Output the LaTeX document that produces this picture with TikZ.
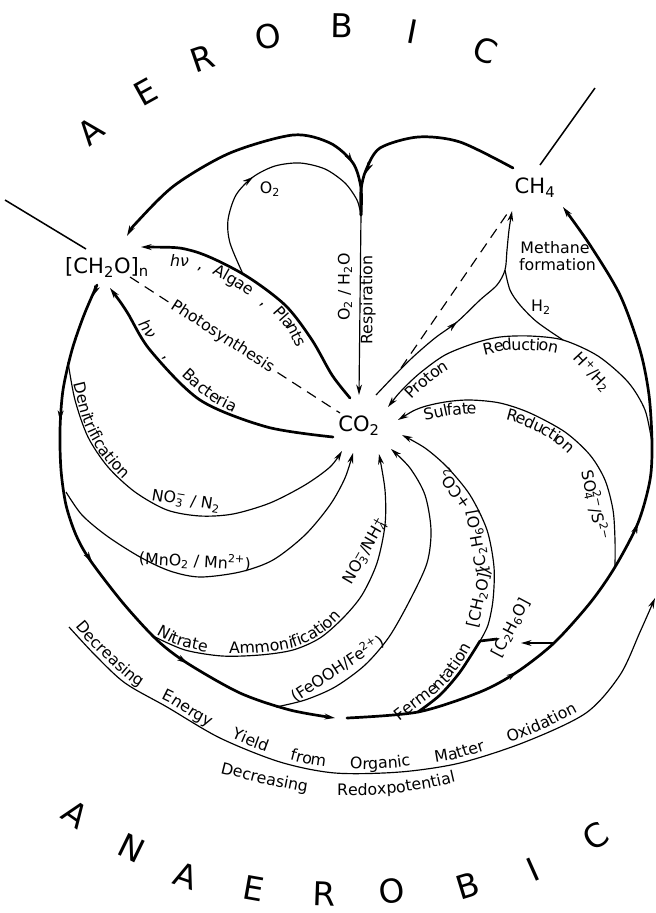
\documentclass[tikz,border=0pt]{standalone}
\usepackage{fontspec}
\setmainfont{DejaVu Sans}
\usetikzlibrary{arrows.meta,decorations.text}

\def\labelsize{\fontsize{13.5}{15}\selectfont}
\def\chemsize{\fontsize{18}{20}\selectfont}
\def\bigsize{\fontsize{28}{30}\selectfont}
\newcommand{\subsup}[2]{\rlap{\textsubscript{#1}}\textsuperscript{#2}}
\newcommand{\flowtext}[3][2pt]{
    \path[decorate, decoration={text along path, text={#3},
        text align={fit to path stretching spaces}, raise=#1}]
    plot coordinates {#2};
}
\newcommand{\wordtext}[3][2pt]{
    \path[decorate, decoration={text along path, text={#3},
        text align=center, raise=#1}]
    plot coordinates {#2};
}
\newcommand{\tipat}[2]{\draw[line width=0.1pt, -{>}] #1 -- #2;}

\tikzset{
    >={Stealth[length=9pt,width=5pt]},
    flux/.style={line width=2.3pt, line cap=round},
    link/.style={line width=1pt},
    border/.style={line width=1.3pt},
    chem/.style={font=\chemsize, inner sep=1pt},
    tag/.style={font=\labelsize, inner sep=1pt},
    zone/.style={font=\bigsize, inner sep=0pt},
}

\begin{document}
\begin{tikzpicture}[x=0.03cm, y=-0.03cm]
\useasboundingbox (0,0) rectangle (656,913);

% compounds
\node[chem] (ch2o) at (107,267) {[CH\textsubscript{2}O]\textsubscript{n}};
\node[chem] (co2) at (359,426) {CO\textsubscript{2}};
\node[chem] (ch4) at (535,188) {CH\textsubscript{4}};

% ends next to the compounds
\coordinate (cTop) at (127,236);
\coordinate (cAlg) at (141,247);
\coordinate (cBac) at (110,288);
\coordinate (cLeft) at (97,285);
\coordinate (cDash) at (130,277);
\coordinate (oAlg) at (350,398);
\coordinate (oBac) at (333,437);
\coordinate (oDash) at (340,413);
\coordinate (oResp) at (359,395);
\coordinate (oMeth) at (376,395);
\coordinate (oPro) at (388,407);
\coordinate (oSul) at (398,420);
\coordinate (oFer) at (402,435);
\coordinate (oFe) at (391,449);
\coordinate (oNit) at (379,454);
\coordinate (oMn) at (353,453);
\coordinate (oDen) at (342,451);
\coordinate (mMeth) at (512,211);
\coordinate (mDash) at (507,214);
\coordinate (mLoop) at (563,207);
\coordinate (mTop) at (513,168);

% joints and branch points
\coordinate (cusp) at (361,215);
\coordinate (jn) at (505,270);
\coordinate (bDen) at (68,362);
\coordinate (bMn) at (66,492);
\coordinate (bNit) at (155,637);
\coordinate (bFe) at (276,707);
\coordinate (bFer) at (418,712);
\coordinate (bSul) at (615,567);
\coordinate (bPro) at (652,443);
\coordinate (bO2) at (243,274);
\coordinate (bH2) at (563,340);
\coordinate (bC2) at (480,641);
\coordinate (bLoop) at (554,643);
\coordinate (cC2) at (521,643);
\coordinate (bDash) at (401,368);
\coordinate (gapL) at (335,718);
\coordinate (gapR) at (347,718);
\coordinate (eStart) at (69,627);
\coordinate (eEnd) at (655,598);

% zone borders
\draw[border] (5,200) -- (86,249);
\draw[border] (540,165) -- (595,88);

% big loop
\draw[flux, ->] plot[smooth] coordinates {(cLeft) (84,315) (72,350) (63,390) (60,430) (61,470) (66,505) (76,535) (90,560) (123,603) (157,640) (187,663) (240,693) (290,710) (gapL)};
\tipat{(95.5,290)}{(93,296)}
\tipat{(60.4,415)}{(60.1,421)}
\tipat{(90.3,559.5)}{(92,562)}
\tipat{(185,661.7)}{(187.5,663.3)}
\draw[flux, ->] plot[smooth] coordinates {(gapR) (bFer) (480,692) (517,672) (bLoop) (590,603) (bSul) (638,523) (650,480) (bPro) (649,395) (640,350) (620,295) (590,245) (mLoop)};
\tipat{(514.5,673.6)}{(517,672)}
\tipat{(637,525.6)}{(638,523)}
\draw[flux, <-] plot[smooth] coordinates {(cTop) (138,221) (175,185) (230,153) (293,135) (330,143) (353,163) (361,188) (cusp)};
\tipat{(351.3,160.5)}{(353,163)}
\draw[flux] plot[smooth] coordinates {(mTop) (460,142) (418,137) (380,148) (366,170) (361,190) (cusp)};
\tipat{(367.2,170.3)}{(366,173)}
\draw[link, ->] (cusp) -- (oResp);
\draw[link] plot[smooth] coordinates {(bO2) (230,243) (228,220) (236,195) (253,177) (275,166) (300,163) (325,169) (345,183) (357,200) (cusp)};
\tipat{(250.6,178.8)}{(253,177)}

% photosynthesis
\draw[flux, <-] plot[smooth] coordinates {(cAlg) (193,251) (bO2) (285,305) (312,340) (332,375) (oAlg)};
\draw[flux, <-] plot[smooth] coordinates {(cBac) (127,312) (150,350) (200,400) (267,427) (oBac)};
\draw[link, dash pattern=on 9pt off 6pt] (cDash) -- node[tag, sloped, fill=white, pos=0.44] {Photosynthesis} (oDash);

% anaerobic side, left
\draw[link, ->] plot[smooth] coordinates {(bDen) (75,400) (88,437) (108,467) (135,492) (167,510) (200,516) (233,514) (270,503) (305,485) (330,467) (oDen)};
\draw[link, ->] plot[smooth] coordinates {(bMn) (82,515) (107,536) (140,557) (170,571) (200,577) (240,572) (273,560) (305,535) (330,505) (345,478) (oMn)};
\draw[link, ->] plot[smooth] coordinates {(bNit) (185,650) (222,656) (260,655) (293,650) (320,638) (343,618) (362,595) (377,563) (385,525) (385,490) (oNit)};
\draw[link, ->] plot[smooth] coordinates {(bFe) (305,700) (335,687) (365,665) (389,637) (410,600) (427,563) (431,530) (425,495) (410,468) (oFe)};
\draw[flux] plot[smooth] coordinates {(bFer) (440,695) (460,672) (bC2)};
\draw[link, ->] plot[smooth] coordinates {(bC2) (488,625) (493,600) (494,567) (487,530) (470,495) (447,467) (425,448) (oFer)};
\draw[flux] (bC2) -- ++(17,-2);
\draw[line width=1.4pt, ->] (bLoop) -- (cC2);

% anaerobic side, right
\draw[link, <-] plot[smooth] coordinates {(oSul) (420,408) (445,402) (470,400) (500,403) (530,413) (565,432) (590,455) (605,480) (613,510) (615,540) (bSul)};
\draw[link, <-] plot[smooth] coordinates {(oPro) (402,390) (420,373) (445,355) (475,343) (500,337) (530,336) (bH2) (598,356) (628,382) (645,410) (bPro)};
\draw[link, ->] plot[smooth] coordinates {(oMeth) (395,375) (413,357) (435,338) (457,322) (480,300) (497,285) (jn) (507,250) (509,230) (mMeth)};
\tipat{(454.7,324)}{(457,322)}
\draw[link] plot[smooth] coordinates {(jn) (510,290) (520,305) (537,322) (bH2)};
\draw[link, dash pattern=on 9pt off 6pt] (bDash) -- (mDash);

% energy arc
\draw[link, ->] plot[smooth] coordinates {(eStart) (95,655) (125,683) (167,707) (220,738) (280,762) (335,773) (400,772) (460,763) (525,742) (586,713) (620,675) (640,632) (eEnd)};

% labels along the arcs
\flowtext[-12pt]{(170,252) (193,252) (218,261) (243,275) (265,290) (285,305) (300,322) (310,342)}{|\labelsize\itshape|hν|\labelsize\upshape| , Algae , Plants}
\flowtext[3pt]{(135,326) (145,341) (157,356) (170,370) (185,384) (200,397) (216,408) (232,416)}{|\labelsize\itshape|hν|\labelsize\upshape| , Bacteria}
\wordtext[2pt]{(69,368) (71,384) (75,400) (80,419) (88,437) (97,453) (108,467) (121,480) (135,492)}{|\labelsize|Denitrification}
\flowtext[2pt]{(bNit) (170,645) (185,650) (203,654) (222,656) (241,656) (260,655) (277,653) (293,650) (307,645) (320,638) (332,629) (343,618)}{|\labelsize|Nitrate Ammonification}
\wordtext[3pt]{(398,727) (412,716) (425,706) (440,695) (451,684) (460,672) (469,659) (477,645)}{|\labelsize|Fermentation}
\flowtext[-12pt]{(422,407) (445,402) (470,400) (485,401) (500,403) (515,407) (530,413) (548,421) (565,432) (578,444)}{|\labelsize|Sulfate Reduction}
\flowtext[-12pt]{(402,390) (411,381) (420,373) (432,363) (445,355) (460,348) (475,343) (500,337) (515,336) (530,336) (545,337) (560,340)}{|\labelsize|Proton Reduction}
\flowtext[4pt]{(72,630) (83,643) (95,655) (110,670) (125,683) (145,696) (167,707) (192,723) (220,738) (250,751) (280,762) (307,769) (335,773) (367,774) (400,772) (430,768) (460,763) (493,753) (525,742) (553,730) (580,716)}{|\labelsize|Decreasing Energy Yield from Organic Matter Oxidation}
\flowtext[0pt]{(220,773) (240,778) (260,783) (280,787) (300,791) (320,794) (340,795) (370,795) (400,793) (430,788) (456,782)}{|\labelsize|Decreasing Redoxpotential}

% formula labels
\node[tag] (lO2) at (270,189) {O\textsubscript{2}};
\node[tag] (lH2) at (541,307) {H\textsubscript{2}};
\node[tag, align=center] (lMeth) at (555,256) {Methane\\\ formation};
\node[tag, rotate=90] (lOH) at (345,287) {O\textsubscript{2} / H\textsubscript{2}O};
\node[tag, rotate=90] (lResp) at (368,300) {Respiration};
\node[tag, rotate=-9] (lNN) at (186,501) {NO\subsup{3}{−} / N\textsubscript{2}};
\node[tag, rotate=-3] (lMn) at (195,561) {(MnO\textsubscript{2} / Mn\textsuperscript{2+})};
\node[tag, rotate=60] (lNH) at (365,551) {NO\subsup{3}{−}/NH\subsup{4}{+}};
\node[tag, rotate=33] (lFe) at (337,668) {(FeOOH/Fe\textsuperscript{2+})};
\node[tag, rotate=77] (lF1) at (480,598) {[CH\textsubscript{2}O]/};
\node[tag, rotate=100] (lF2) at (478,541) {[C\textsubscript{2}H\textsubscript{6}O]};
\node[tag, rotate=125] (lF3) at (455,489) {+CO\textsubscript{2}};
\node[tag, rotate=62] (lEth) at (511,628) {[C\textsubscript{2}H\textsubscript{6}O]};
\node[tag, rotate=-78] (lSO) at (595,505) {SO\subsup{4}{2−}/S\textsuperscript{2−}};
\node[tag, rotate=-47] (lHH) at (592,372) {H\textsuperscript{+}/H\textsubscript{2}};

% zones
\foreach \x/\y/\r/\l [count=\i] in {91/131/39/A, 146/92/29/E, 202/58/19/R, 268/36/10/O, 342/26/-1/B, 413/32/-11/I, 485/50/-21/C}
    \node[zone, rotate=\r] (aer\i) at (\x,\y) {\l};
\foreach \x/\y/\r/\l [count=\i] in {76/814/-35/A, 132/848/-26/N, 186/876/-19/A, 254/889/-10/E, 324/894/-2/R, 392/891/7/O, 468/886/17/B, 533/870/24/I, 596/836/33/C}
    \node[zone, rotate=\r] (ana\i) at (\x,\y) {\l};
\end{tikzpicture}
\end{document}
